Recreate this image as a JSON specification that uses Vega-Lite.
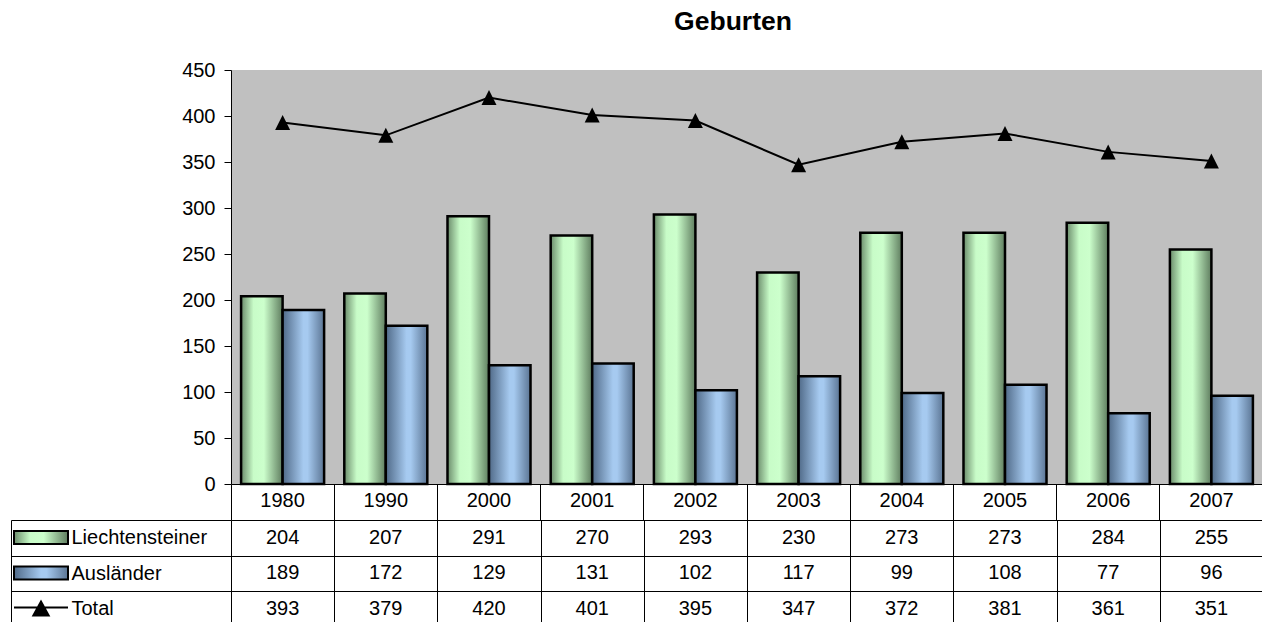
{
  "$schema": "https://vega.github.io/schema/vega-lite/v6.json",
  "padding": {"left": 10, "top": 9, "right": 0, "bottom": 0},
  "background": "white",
  "config": {
    "font": "Liberation Sans",
    "view": {"stroke": null},
    "axis": {"labelFont": "Liberation Sans", "labelColor": "black", "domainColor": "black", "tickColor": "black"}
  },
  "datasets": {
    "births": [
      {"year": "1980", "Liechtensteiner": 204, "Ausländer": 189, "Total": 393},
      {"year": "1990", "Liechtensteiner": 207, "Ausländer": 172, "Total": 379},
      {"year": "2000", "Liechtensteiner": 291, "Ausländer": 129, "Total": 420},
      {"year": "2001", "Liechtensteiner": 270, "Ausländer": 131, "Total": 401},
      {"year": "2002", "Liechtensteiner": 293, "Ausländer": 102, "Total": 395},
      {"year": "2003", "Liechtensteiner": 230, "Ausländer": 117, "Total": 347},
      {"year": "2004", "Liechtensteiner": 273, "Ausländer": 99, "Total": 372},
      {"year": "2005", "Liechtensteiner": 273, "Ausländer": 108, "Total": 381},
      {"year": "2006", "Liechtensteiner": 284, "Ausländer": 77, "Total": 361},
      {"year": "2007", "Liechtensteiner": 255, "Ausländer": 96, "Total": 351}
    ]
  },
  "bounds": "flush",
  "spacing": 36,
  "resolve": {"legend": {"stroke": "independent", "color": "independent"}},
  "vconcat": [
    {
      "title": {"text": "Geburten", "fontSize": 26.5, "fontWeight": "bold", "font": "Liberation Sans", "color": "black", "anchor": "middle", "dx": -14, "offset": 24.5},
      "width": 1032,
      "height": 414,
      "view": {"fill": "#c0c0c0", "stroke": null},
      "data": {"name": "births"},
      "resolve": {"scale": {"stroke": "independent"}, "legend": {"stroke": "independent"}},
      "layer": [
        {
          "mark": {"type": "bar", "strokeWidth": 2.5, "fill": {"gradient": "linear", "x1": 0, "y1": 0, "x2": 1, "y2": 0, "stops": [{"offset": 0, "color": "#6b8c6b"}, {"offset": 0.3, "color": "#c8fcc8"}, {"offset": 0.55, "color": "#ccffcc"}, {"offset": 1, "color": "#5f7d5f"}]}},
          "encoding": {
            "x": {"field": "year", "type": "ordinal", "scale": {"domain": ["1980","1990","2000","2001","2002","2003","2004","2005","2006","2007"], "paddingInner": 0, "paddingOuter": 0},
              "axis": {"title": null, "bandPosition": 0, "tickSize": 36, "labelPadding": -29.5, "labelFontSize": 20, "labelAngle": 0, "domainColor": "black", "tickColor": "black", "grid": false}},
            "xOffset": {"datum": "Liechtensteiner", "scale": {"domain": ["Liechtensteiner", "Ausländer"], "paddingInner": 0, "paddingOuter": 0.243}},
            "y": {"field": "Liechtensteiner", "type": "quantitative", "scale": {"domain": [0, 450], "nice": false},
              "axis": {"title": null, "values": [0,50,100,150,200,250,300,350,400,450], "tickSize": 7, "labelPadding": 9, "labelFontSize": 20, "grid": false, "domainColor": "black"}},
            "stroke": {"datum": "Liechtensteiner", "scale": {"domain": ["Liechtensteiner"], "range": ["black"]},
              "legend": {"orient": "none", "legendX": -200, "legendY": 457.5, "title": null, "padding": 0,
                "symbolType": "M-3,-0.72H3V0.72H-3Z", "symbolSize": 324, "symbolStrokeWidth": 2, "labelExpr": "''", "labelFontSize": 1}}
          }
        },
        {
          "mark": {"type": "bar", "strokeWidth": 2.5, "fill": {"gradient": "linear", "x1": 0, "y1": 0, "x2": 1, "y2": 0, "stops": [{"offset": 0, "color": "#506a88"}, {"offset": 0.5, "color": "#a6caf0"}, {"offset": 0.6, "color": "#a6caf0"}, {"offset": 1, "color": "#5b7594"}]}},
          "encoding": {
            "x": {"field": "year", "type": "ordinal"},
            "xOffset": {"datum": "Ausländer"},
            "y": {"field": "Ausländer", "type": "quantitative"},
            "stroke": {"datum": "Ausländer", "scale": {"domain": ["Ausländer"], "range": ["black"]},
              "legend": {"orient": "none", "legendX": -200, "legendY": 493, "title": null, "padding": 0,
                "symbolType": "M-3,-0.72H3V0.72H-3Z", "symbolSize": 324, "symbolStrokeWidth": 2, "labelExpr": "''", "labelFontSize": 1}}
          }
        },
        {
          "mark": {"type": "line", "strokeWidth": 2},
          "encoding": {
            "x": {"field": "year", "type": "ordinal"},
            "y": {"field": "Total", "type": "quantitative"},
            "color": {"datum": "Total", "scale": {"domain": ["Total"], "range": ["black"]},
              "legend": {"orient": "none", "legendX": -200, "legendY": 527.5, "title": null, "padding": 0,
                "symbolType": "M-3,0H3M-0.85,0.9L0,-0.65L0.85,0.9Z", "symbolSize": 324, "symbolStrokeWidth": 2, "symbolFillColor": "black", "symbolStrokeColor": "black", "labelExpr": "''", "labelFontSize": 1}}
          }
        },
        {
          "mark": {"type": "point", "filled": true, "fill": "black", "opacity": 1, "size": 225, "shape": "M-1,1L0,-1L1,1Z", "strokeWidth": 0},
          "encoding": {
            "x": {"field": "year", "type": "ordinal"},
            "y": {"field": "Total", "type": "quantitative"}
          }
        }
      ]
    },
    {
      "width": 1032,
      "height": 106.5,
      "data": {"name": "births"},
      "transform": [{"fold": ["Liechtensteiner", "Ausländer", "Total"], "as": ["series", "value"]}],
      "mark": {"type": "text", "fontSize": 20, "font": "Liberation Sans", "color": "black", "baseline": "middle", "align": "center"},
      "encoding": {
        "x": {"field": "year", "type": "ordinal", "scale": {"domain": ["1980","1990","2000","2001","2002","2003","2004","2005","2006","2007"], "paddingInner": 0, "paddingOuter": 0},
          "axis": {"title": null, "orient": "bottom", "grid": true, "tickBand": "extent", "gridColor": "black", "gridOpacity": 1, "gridWidth": 1, "labels": false, "ticks": false, "domain": false}},
        "y": {"field": "series", "type": "nominal", "scale": {"domain": ["Liechtensteiner", "Ausländer", "Total"], "paddingInner": 0, "paddingOuter": 0},
          "axis": {"title": null, "orient": "left", "offset": 220, "tickBand": "extent", "tickSize": -220, "tickColor": "black", "domainColor": "black", "labelAlign": "left", "labelPadding": 160, "labelFontSize": 20, "labelColor": "black", "grid": true, "gridColor": "black", "gridOpacity": 1, "gridWidth": 1}},
        "text": {"field": "value", "type": "quantitative"}
      }
    }
  ]
}
